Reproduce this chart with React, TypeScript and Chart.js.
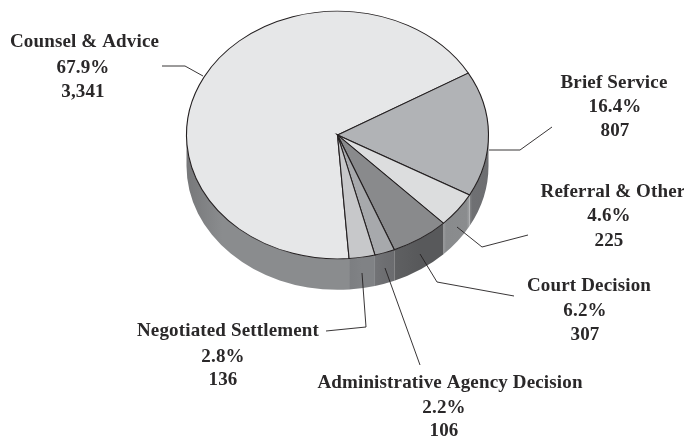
import React, { useEffect, useRef } from "react";
import { Chart, registerables } from "chart.js";

Chart.register(...registerables);

const categories = ["Counsel & Advice", "Brief Service", "Referral & Other", "Court Decision", "Administrative Agency Decision", "Negotiated Settlement"];
const counts = [3341, 807, 225, 307, 106, 136];
const countLabels = ["3,341", "807", "225", "307", "106", "136"];
const percentLabels = ["67.9%", "16.4%", "4.6%", "6.2%", "2.2%", "2.8%"];
const topColors = ["#e6e7e8", "#b1b3b6", "#dcddde", "#898a8c", "#a7a9ac", "#c7c8ca"];
// left-to-right shading stops of each slice's side wall: [offset, colour]
const wallStops: [number, string][][] = [
  [[0, "#77787a"], [0.22, "#8a8c8e"], [1, "#8a8c8e"]],
  [[0, "#86888a"], [0.14, "#6f7073"], [1, "#6d6e71"]],
  [[0, "#9a9c9e"], [0.1, "#898b8d"], [0.88, "#8a8c8e"], [1, "#a0a2a4"]],
  [[0, "#5f6062"], [0.5, "#58595b"], [1, "#58595b"]],
  [[0, "#727376"], [0.5, "#6d6e71"], [1, "#6b6c6f"]],
  [[0, "#7c7e81"], [0.5, "#808285"], [1, "#808285"]],
];

const CENTER_X = 337.5;
const CENTER_Y = 135;
const RADIUS = 151;
const TILT = 0.82;
const DEPTH = 31;
const FONT = 'bold 19px "Liberation Serif"';
const INK = "#2a2829";

// label block: x of name, x of value lines, three baselines
const labelLayout = [
  { nameX: 84.5, valueX: 83, ys: [47, 73, 97] },
  { nameX: 614, valueX: 615, ys: [88, 112, 136] },
  { nameX: 613, valueX: 609, ys: [197, 221, 246] },
  { nameX: 589, valueX: 585, ys: [291, 316, 340] },
  { nameX: 450, valueX: 444, ys: [388, 413, 436] },
  { nameX: 228, valueX: 223, ys: [336, 362, 385] },
];
const leaders = [
  [[203, 76], [185, 66], [162, 66]],
  [[489, 150], [520, 150], [552, 127]],
  [[457, 227], [482, 247], [528, 235]],
  [[420, 254], [437, 282], [514, 296]],
  [[385, 268], [420, 365]],
  [[362, 273], [366, 327], [326, 331]],
];

const pie3d = {
  id: "pie3d",
  beforeDatasetsDraw(chart: any) {
    const ctx = chart.ctx as CanvasRenderingContext2D;
    const arcs = chart.getDatasetMeta(0).data as any[];
    ctx.save();
    arcs.forEach((arc, i) => {
      const r = arc.outerRadius;
      for (let k = -1; k <= 2; k++) {
        const lo = Math.max(arc.startAngle, k * 2 * Math.PI);
        const hi = Math.min(arc.endAngle, k * 2 * Math.PI + Math.PI);
        if (hi <= lo) continue;
        const grad = ctx.createLinearGradient(CENTER_X + r * Math.cos(hi), 0, CENTER_X + r * Math.cos(lo), 0);
        wallStops[i].forEach(([o, c]) => grad.addColorStop(o, c));
        ctx.beginPath();
        ctx.ellipse(CENTER_X, CENTER_Y, r, r * TILT, 0, lo, hi);
        ctx.ellipse(CENTER_X, CENTER_Y + DEPTH, r, r * TILT, 0, hi, lo, true);
        ctx.closePath();
        ctx.fillStyle = grad;
        ctx.fill();
      }
    });
    ctx.restore();
    ctx.save();
    const first = arcs[0];
    ctx.translate(CENTER_X, CENTER_Y);
    ctx.scale(1, TILT);
    ctx.translate(-first.x, -first.y);
  },
  afterDatasetsDraw(chart: any) {
    const ctx = chart.ctx as CanvasRenderingContext2D;
    ctx.restore();
    ctx.save();
    ctx.strokeStyle = "#231f20";
    ctx.lineWidth = 0.9;
    leaders.forEach((pts) => {
      ctx.beginPath();
      pts.forEach(([x, y], j) => (j ? ctx.lineTo(x, y) : ctx.moveTo(x, y)));
      ctx.stroke();
    });
    ctx.font = FONT;
    (ctx as any).letterSpacing = "0.15px";
    ctx.fillStyle = INK;
    ctx.textAlign = "center";
    ctx.textBaseline = "alphabetic";
    categories.forEach((name, i) => {
      const l = labelLayout[i];
      ctx.fillText(name, l.nameX, l.ys[0]);
      ctx.fillText(percentLabels[i], l.valueX, l.ys[1]);
      ctx.fillText(countLabels[i], l.valueX, l.ys[2]);
    });
    ctx.restore();
  },
};

export default function App() {
  const ref = useRef<HTMLCanvasElement>(null);
  useEffect(() => {
    const chart = new Chart(ref.current!, {
      type: "pie",
      data: {
        labels: categories,
        datasets: [
          {
            data: counts,
            backgroundColor: topColors,
            borderColor: "#231f20",
            borderWidth: 1.1,
            borderJoinStyle: "miter",
            radius: RADIUS,
          } as any,
        ],
      },
      options: {
        responsive: false,
        animation: false,
        rotation: 175.6,
        layout: { padding: { right: 8 } },
        plugins: { legend: { display: false }, tooltip: { enabled: false } },
      },
      plugins: [pie3d],
    });
    return () => chart.destroy();
  }, []);
  return (
    <div style={{ position: "absolute", left: 0, top: 0, width: 684, height: 438, background: "#fff" }}>
      <canvas ref={ref} width={684} height={438} style={{ display: "block" }} />
    </div>
  );
}
